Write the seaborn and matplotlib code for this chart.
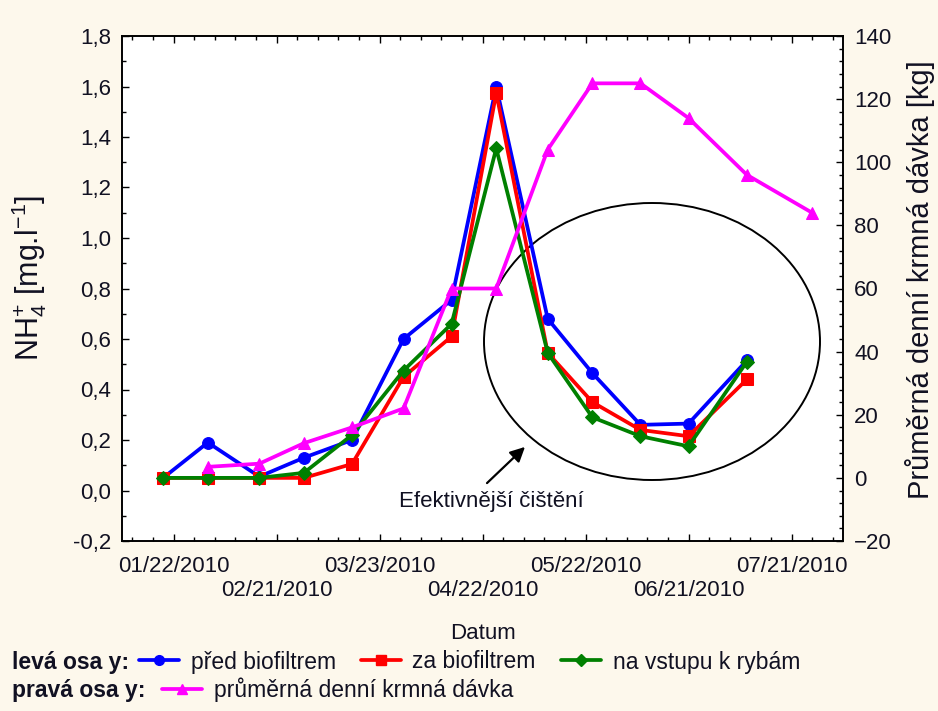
import numpy as np
import pandas as pd
import seaborn as sns
import matplotlib
matplotlib.use("Agg")
import matplotlib.pyplot as plt
import matplotlib.dates as mdates
from matplotlib.patches import Ellipse
from matplotlib.lines import Line2D
from matplotlib.ticker import FuncFormatter, MultipleLocator, FixedLocator

# ---------------- data ----------------
dates_nh4 = ["2010-01-19", "2010-02-01", "2010-02-16", "2010-03-01", "2010-03-15",
             "2010-03-30", "2010-04-13", "2010-04-26", "2010-05-11", "2010-05-24",
             "2010-06-07", "2010-06-21", "2010-07-08"]
pred_biofiltrem = [0.05, 0.19, 0.055, 0.13, 0.20, 0.60, 0.755, 1.60, 0.68, 0.465, 0.26, 0.265, 0.515]
za_biofiltrem = [0.05, 0.05, 0.05, 0.05, 0.105, 0.45, 0.61, 1.575, 0.545, 0.35, 0.24, 0.215, 0.44]
na_vstupu = [0.05, 0.05, 0.05, 0.07, 0.22, 0.475, 0.66, 1.355, 0.545, 0.29, 0.215, 0.175, 0.51]

dates_feed = ["2010-02-01", "2010-02-16", "2010-03-01", "2010-03-15", "2010-03-30",
              "2010-04-13", "2010-04-26", "2010-05-11", "2010-05-24", "2010-06-07",
              "2010-06-21", "2010-07-08", "2010-07-27"]
krmna_davka = [3.5, 4.5, 11, 16, 22, 60, 60, 104, 125, 125, 114, 96, 84]

tick_dates = ["2010-01-22", "2010-02-21", "2010-03-23", "2010-04-22",
              "2010-05-22", "2010-06-21", "2010-07-21"]
tick_labels = ["01/22/2010", "02/21/2010", "03/23/2010", "04/22/2010",
               "05/22/2010", "06/21/2010", "07/21/2010"]

# ---------------- style ----------------
sns.set_style("white")
plt.rcParams["font.family"] = ["Liberation Sans", "DejaVu Sans"]
plt.rcParams["mathtext.fontset"] = "custom"
plt.rcParams["mathtext.rm"] = "Liberation Sans"
plt.rcParams["mathtext.it"] = "Liberation Sans:italic"
plt.rcParams["mathtext.bf"] = "Liberation Sans:bold"

BG = "#FDF8EC"
C_BLUE, C_RED, C_GREEN, C_MAG = "#0000FF", "#FF0000", "#008000", "#FF00FF"
TICK_FS = 16
TXT = "#111122"

df = pd.DataFrame({"date": pd.to_datetime(dates_nh4),
                   "pred": pred_biofiltrem, "za": za_biofiltrem, "vstup": na_vstupu})
dff = pd.DataFrame({"date": pd.to_datetime(dates_feed), "feed": krmna_davka})

fig = plt.figure(figsize=(9.38, 7.11), dpi=100, facecolor=BG)
W, H = 938, 711
L, R, T, B = 122, 843, 36, 541
ax = fig.add_axes([L / W, 1 - B / H, (R - L) / W, (B - T) / H])
ax.set_facecolor("white")

lw, ms = 2.7, 8.5
sns.lineplot(data=df, x="date", y="pred", ax=ax, color=C_BLUE, marker="o",
             markersize=ms, markeredgecolor=C_BLUE, linewidth=lw)
sns.lineplot(data=df, x="date", y="za", ax=ax, color=C_RED, marker="s",
             markersize=ms, markeredgecolor=C_RED, linewidth=lw)
sns.lineplot(data=df, x="date", y="vstup", ax=ax, color=C_GREEN, marker="D",
             markersize=ms - 1.5, markeredgecolor=C_GREEN, linewidth=lw)

ax2 = ax.twinx()
sns.lineplot(data=dff, x="date", y="feed", ax=ax2, color=C_MAG, marker="^",
             markersize=ms, markeredgecolor=C_MAG, linewidth=lw)

# axes limits
x0 = pd.Timestamp("2010-01-07")
x1 = pd.Timestamp("2010-08-05")
ax.set_xlim(x0, x1)
ax.set_ylim(-0.2, 1.8)
ax2.set_ylim(-20, 140)

# x ticks
maj = mdates.date2num(pd.to_datetime(tick_dates))
ax.xaxis.set_major_locator(FixedLocator(maj))
ax.set_xticklabels([("" if i % 2 == 0 else "\n") + t for i, t in enumerate(tick_labels)])
minor = mdates.date2num(pd.date_range("2010-01-10", "2010-08-04", freq="6D"))
ax.xaxis.set_minor_locator(FixedLocator(minor))

ax.yaxis.set_major_locator(MultipleLocator(0.2))
ax.yaxis.set_minor_locator(MultipleLocator(0.1))
ax.yaxis.set_major_formatter(FuncFormatter(lambda v, p: f"{v:.1f}".replace(".", ",").replace("-0,0", "0,0")))
ax2.yaxis.set_major_locator(MultipleLocator(20))
ax2.yaxis.set_minor_locator(MultipleLocator(4))

ax.tick_params(axis="x", which="both", direction="in", top=True, bottom=True,
               labelsize=TICK_FS, pad=11, colors="black", labelcolor=TXT)
ax.tick_params(axis="y", which="both", direction="in", left=True, right=False,
               labelsize=TICK_FS, pad=8, colors="black", labelcolor=TXT)
ax2.tick_params(axis="y", which="both", direction="in", right=True,
                labelsize=TICK_FS, pad=8, colors="black", labelcolor=TXT)
for a in (ax, ax2):
    a.tick_params(which="major", length=5, width=1)
    a.tick_params(which="minor", length=3, width=1)
    for s in a.spines.values():
        s.set_color("black")
        s.set_linewidth(1.2)

ax.set_xlabel("Datum", fontsize=16, color=TXT)
ax.set_ylabel(r"NH$_\mathregular{4}^\mathregular{+}$ [mg.l$^\mathregular{-1}$]", fontsize=22, color=TXT)
ax2.set_ylabel("Průměrná denní krmná dávka [kg]", fontsize=21, color=TXT)
ax.yaxis.set_label_coords((49 - L) / (R - L), 0.52)
ax2.yaxis.set_label_coords((905 - L) / (R - L), 0.517)
ax.xaxis.set_label_coords(0.5, (B - 623) / (B - T))

# annotation ellipse and arrow
ell = Ellipse(((652 - L) / (R - L), (B - 341.5) / (B - T)),
              336 / (R - L), 277 / (B - T), transform=ax.transAxes,
              fill=False, edgecolor="black", linewidth=1.4, zorder=1)
ax.add_patch(ell)
ax.annotate("", xy=((527 - L) / (R - L), (B - 445) / (B - T)),
            xytext=((485 - L) / (R - L), (B - 485) / (B - T)),
            xycoords="axes fraction", textcoords="axes fraction",
            arrowprops=dict(arrowstyle="-|>", color="black", lw=1.6, mutation_scale=22))
ax.text((491 - L) / (R - L), (B - 502) / (B - T), "Efektivnější čištění",
        transform=ax.transAxes, ha="center", va="center", fontsize=16, color=TXT)

# legend
LEG_FS = 16.5
fig.text(12 / W, 1 - 662 / H, "levá osa y:", fontsize=LEG_FS, fontweight="bold",
         va="center", color=TXT)
fig.text(12 / W, 1 - 690 / H, "pravá osa y:", fontsize=LEG_FS, fontweight="bold",
         va="center", color=TXT)
h1 = [Line2D([], [], color=C_BLUE, marker="o", markersize=7, lw=lw),
      Line2D([], [], color=C_RED, marker="s", markersize=7, lw=lw),
      Line2D([], [], color=C_GREEN, marker="D", markersize=6, lw=lw)]
leg1 = fig.legend(h1, ["před biofiltrem", "za biofiltrem", "na vstupu k rybám"],
                  loc="center left", bbox_to_anchor=(139 / W, 1 - 662 / H), ncol=3,
                  frameon=False, fontsize=LEG_FS, handlelength=1.75, handletextpad=0.5,
                  columnspacing=1.1, borderpad=0, borderaxespad=0, labelcolor=TXT)
h2 = [Line2D([], [], color=C_MAG, marker="^", markersize=7, lw=lw)]
leg2 = fig.legend(h2, ["průměrná denní krmná dávka"], loc="center left",
                  bbox_to_anchor=(162 / W, 1 - 690 / H), frameon=False, fontsize=LEG_FS,
                  handlelength=1.75, handletextpad=0.5, borderpad=0, borderaxespad=0,
                  labelcolor=TXT)

fig.savefig("out.png", dpi=100, facecolor=BG)
